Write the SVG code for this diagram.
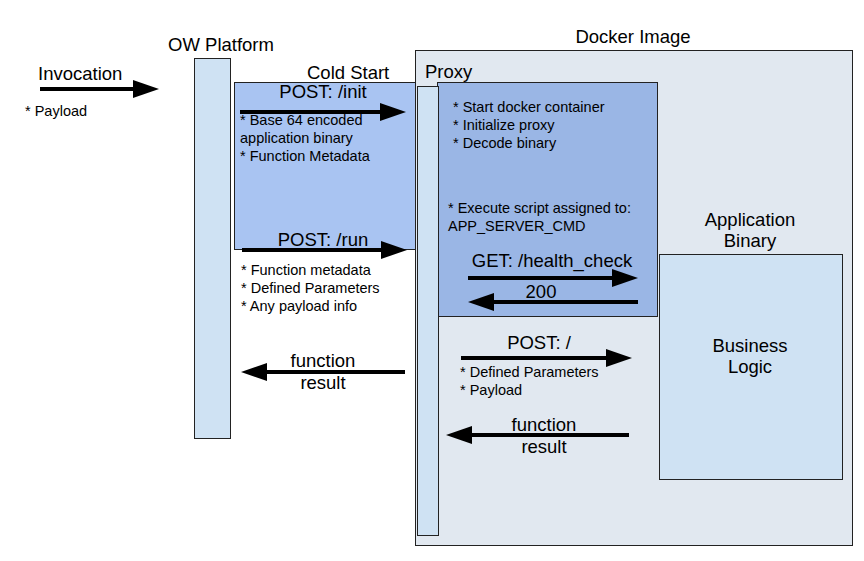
<svg xmlns="http://www.w3.org/2000/svg" width="864" height="561" viewBox="0 0 864 561">
<style>
  text { font-family: "Liberation Sans", Arial, sans-serif; fill: #000; }
  .big { font-size: 18.5px; }
  .sm { font-size: 14.5px; }
  .mid { text-anchor: middle; }
  .box { stroke: #222; stroke-width: 1; }
  .arr { stroke: #000; stroke-width: 4; fill: none; marker-end: url(#ah); }
</style>
<defs>
  <marker id="ah" viewBox="0 0 6.5 4.5" markerWidth="6.5" markerHeight="4.5" refX="1" refY="2.25" orient="auto" markerUnits="strokeWidth">
    <path d="M0,0 L6.5,2.25 L0,4.5 z" fill="#000"/>
  </marker>
</defs>
<rect width="864" height="561" fill="#fff"/>

<g id="docker-image">
  <rect class="box" x="415.5" y="50.5" width="437" height="495" fill="#e1e8f0"/>
  <text class="big mid" x="633" y="43">Docker Image</text>
</g>

<g id="proxy-box">
  <rect class="box" x="437.5" y="82.5" width="220" height="234" fill="#9ab6e5"/>
  <text class="big" x="425" y="78">Proxy</text>
  <text class="sm" x="453" y="112">* Start docker container</text>
  <text class="sm" x="453" y="130">* Initialize proxy</text>
  <text class="sm" x="453" y="148">* Decode binary</text>
  <text class="sm" x="448" y="213">* Execute script assigned to:</text>
  <text class="sm" x="448" y="231">APP_SERVER_CMD</text>
  <text class="big mid" x="552" y="267">GET: /health_check</text>
  <text class="big mid" x="541" y="298">200</text>
</g>

<g id="cold-start">
  <rect class="box" x="234.5" y="82.5" width="181" height="167" fill="#a9c4f2"/>
  <text class="big" x="307" y="79">Cold Start</text>
  <text class="big mid" x="323" y="98">POST: /init</text>
  <text class="sm" x="240" y="125">* Base 64 encoded</text>
  <text class="sm" x="240" y="143">application binary</text>
  <text class="sm" x="240" y="161">* Function Metadata</text>
  <text class="big mid" x="323" y="246">POST: /run</text>
</g>

<g id="ow-platform">
  <rect class="box" x="194.5" y="58.5" width="36" height="380" fill="#cfe2f3"/>
  <text class="big mid" x="221" y="51">OW Platform</text>
</g>

<g id="proxy-lifeline">
  <rect class="box" x="417.5" y="86.5" width="21" height="449" fill="#cfe2f3"/>
</g>

<g id="application-binary">
  <rect class="box" x="659.5" y="254.5" width="183" height="225" fill="#cfe2f3"/>
  <text class="big mid" x="750" y="226">Application</text>
  <text class="big mid" x="750" y="247">Binary</text>
  <text class="big mid" x="750" y="352">Business</text>
  <text class="big mid" x="750" y="373">Logic</text>
</g>

<g id="invocation">
  <text class="big" x="38" y="80">Invocation</text>
  <text class="sm" x="25" y="116">* Payload</text>
</g>

<g id="labels">
  <text class="sm" x="241" y="275">* Function metadata</text>
  <text class="sm" x="241" y="293">* Defined Parameters</text>
  <text class="sm" x="241" y="311">* Any payload info</text>
  <text class="big mid" x="323" y="367">function</text>
  <text class="big mid" x="323" y="389">result</text>
  <text class="big mid" x="539" y="349">POST: /</text>
  <text class="sm" x="460" y="377">* Defined Parameters</text>
  <text class="sm" x="460" y="395">* Payload</text>
  <text class="big mid" x="544" y="431">function</text>
  <text class="big mid" x="544" y="453">result</text>
</g>

<g id="connectors">
  <line class="arr" x1="40" y1="89" x2="137" y2="89"/>
  <line class="arr" x1="240" y1="112" x2="384" y2="112"/>
  <line class="arr" x1="242" y1="250" x2="385" y2="250"/>
  <line class="arr" x1="405" y1="372" x2="263" y2="372"/>
  <line class="arr" x1="468" y1="278" x2="616" y2="278"/>
  <line class="arr" x1="638" y1="302" x2="490" y2="302"/>
  <line class="arr" x1="461" y1="358" x2="610" y2="358"/>
  <line class="arr" x1="629" y1="435" x2="468" y2="435"/>
</g>
</svg>
